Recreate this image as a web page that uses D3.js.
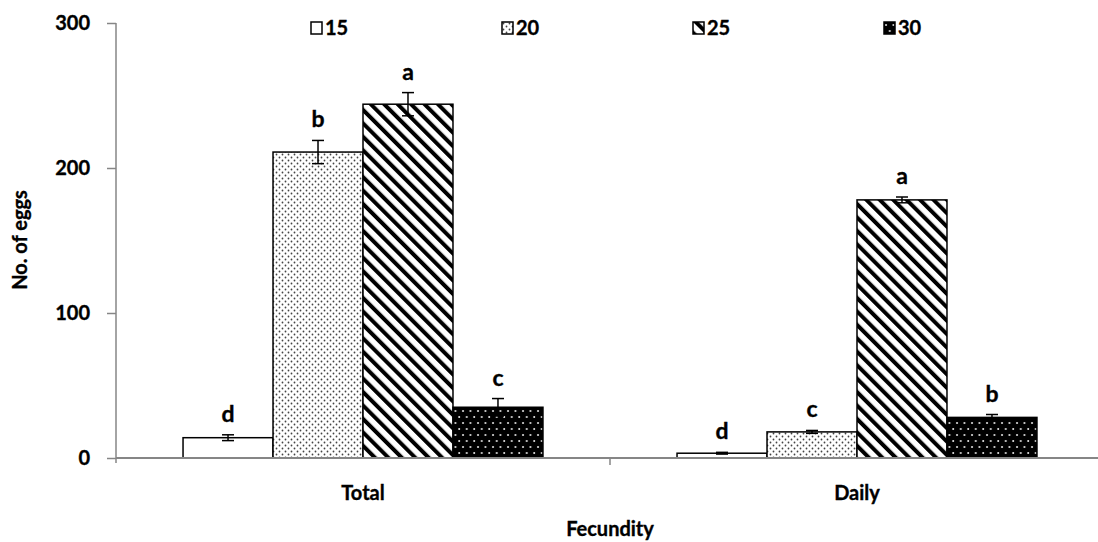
<!DOCTYPE html>
<head>
  <meta charset="utf-8">
  <title>Fecundity</title>
  <script src="https://d3js.org/d3.v7.min.js"></script>
  <style>
    body { margin: 0; background: #fff; }
    text { font-family: Lato, "Open Sans", sans-serif; font-weight: bold; fill: #000; stroke: #000; stroke-width: 0.35px; }
  </style>
</head>
<body>
<script>
  // chart data
  var categories = ["Total", "Daily"];
  var series = ["15", "20", "25", "30"];
  var means = [
    [14, 211, 244, 35],
    [3.3, 18, 178, 28]
  ];
  var errs = [
    [2, 8, 8, 6],
    [0.6, 1, 2, 2]
  ];
  var letters = [
    ["d", "b", "a", "c"],
    ["d", "c", "a", "b"]
  ];
  var yTicks = [0, 100, 200, 300];

  var W = 1098, H = 542;
  var svg = d3.select("body").append("svg").attr("width", W).attr("height", H);

  // fill patterns
  var defs = svg.append("defs");
  var p20 = defs.append("pattern").attr("id", "p20").attr("patternUnits", "userSpaceOnUse")
    .attr("width", 6).attr("height", 6);
  p20.append("rect").attr("width", 6).attr("height", 6).attr("fill", "#fff");
  p20.append("circle").attr("cx", 1.5).attr("cy", 1.5).attr("r", 0.9).attr("fill", "#444");
  p20.append("circle").attr("cx", 4.5).attr("cy", 4.5).attr("r", 0.9).attr("fill", "#444");

  var p25 = defs.append("pattern").attr("id", "p25").attr("patternUnits", "userSpaceOnUse")
    .attr("width", 9.5).attr("height", 9.5).attr("patternTransform", "rotate(-45)");
  p25.append("rect").attr("width", 9.5).attr("height", 9.5).attr("fill", "#fff");
  p25.append("rect").attr("width", 4).attr("height", 9.5).attr("fill", "#000");

  var p30 = defs.append("pattern").attr("id", "p30").attr("patternUnits", "userSpaceOnUse")
    .attr("width", 7.5).attr("height", 12);
  p30.append("rect").attr("width", 7.5).attr("height", 12).attr("fill", "#000");
  p30.append("circle").attr("cx", 2).attr("cy", 3).attr("r", 1).attr("fill", "#eee");
  p30.append("circle").attr("cx", 5.75).attr("cy", 9).attr("r", 1).attr("fill", "#eee");

  var fills = {"15": "#fff", "20": "url(#p20)", "25": "url(#p25)", "30": "url(#p30)"};

  var x0 = d3.scaleBand().domain(categories).range([116, 1104]).padding(0);
  var x1 = d3.scaleBand().domain(series).range([0, x0.bandwidth()]).paddingInner(0).paddingOuter(0.745);
  var y = d3.scaleLinear().domain([0, 300]).range([458, 23]);

  // bars
  categories.forEach(function(c, ci) {
    var g = svg.append("g").attr("transform", "translate(" + x0(c) + ",0)");
    series.forEach(function(s, si) {
      var v = means[ci][si], e = errs[ci][si];
      var bx = x1(s), bw = x1.bandwidth(), cx = bx + bw / 2;
      g.append("rect")
        .attr("x", bx).attr("y", y(v))
        .attr("width", bw).attr("height", y(0) - y(v))
        .attr("fill", fills[s]).attr("stroke", "#000").attr("stroke-width", 1.5);
      var eg = g.append("g").attr("stroke", "#000").attr("stroke-width", 1.5);
      eg.append("line").attr("x1", cx).attr("x2", cx).attr("y1", y(v - e)).attr("y2", y(v + e));
      eg.append("line").attr("x1", cx - 6).attr("x2", cx + 6).attr("y1", y(v - e)).attr("y2", y(v - e));
      eg.append("line").attr("x1", cx - 6).attr("x2", cx + 6).attr("y1", y(v + e)).attr("y2", y(v + e));
      g.append("text").attr("x", cx).attr("y", y(v + e) - 13)
        .attr("text-anchor", "middle").style("font-size", "23px").text(letters[ci][si]);
    });
  });

  // axes
  var axisColor = "#868686";
  var yAxis = svg.append("g").attr("transform", "translate(116,0)")
    .call(d3.axisLeft(y).tickValues(yTicks).tickSize(9).tickPadding(17));
  yAxis.select(".domain").remove();
  yAxis.selectAll(".tick line").attr("stroke", axisColor).attr("stroke-width", 1.5);
  yAxis.selectAll(".tick text").style("font-size", "20px").style("font-family", "Lato, sans-serif");
  yAxis.append("line").attr("x1", 0).attr("x2", 0).attr("y1", y(300)).attr("y2", y(0) + 5)
    .attr("stroke", axisColor).attr("stroke-width", 1.5);

  var xAxis = svg.append("g").attr("transform", "translate(0,458)");
  xAxis.append("line").attr("x1", 116).attr("x2", 1104).attr("y1", 0).attr("y2", 0)
    .attr("stroke", axisColor).attr("stroke-width", 2);
  xAxis.selectAll(".bt").data(categories.slice(1)).enter().append("line")
    .attr("x1", function(d) { return x0(d); }).attr("x2", function(d) { return x0(d); })
    .attr("y1", 0).attr("y2", 7).attr("stroke", axisColor).attr("stroke-width", 1.5);
  xAxis.selectAll(".cl").data(categories).enter().append("text")
    .attr("x", function(d) { return x0(d) + x0.bandwidth() / 2; })
    .attr("y", 42).attr("text-anchor", "middle").style("font-size", "20px")
    .text(function(d) { return d; });

  svg.append("text").attr("x", 610).attr("y", 536).attr("text-anchor", "middle")
    .style("font-size", "20px").text("Fecundity");
  svg.append("text").attr("transform", "translate(27,240) rotate(-90)").attr("text-anchor", "middle")
    .style("font-size", "20px").text("No. of eggs");

  // legend
  var leg = svg.append("g").selectAll("g").data(series).enter().append("g")
    .attr("transform", function(d, i) { return "translate(" + (311 + i * 191) + ",22)"; });
  leg.append("rect").attr("width", 11).attr("height", 12)
    .attr("fill", function(d) { return fills[d]; }).attr("stroke", "#000").attr("stroke-width", 1.5);
  leg.append("text").attr("x", 14).attr("y", 13).style("font-size", "20px").text(function(d) { return d; });
</script>
</body>
